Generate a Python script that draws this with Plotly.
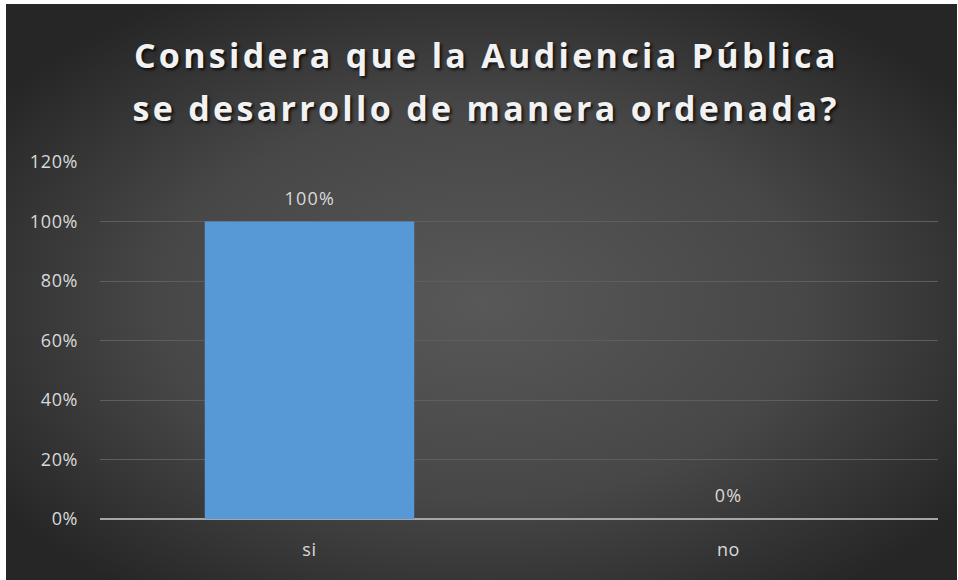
import base64
import plotly.graph_objects as go

categories = ["si", "no"]
values = [1.0, 0.0]
value_labels = ["100%", "0%"]
tick_vals = [0, 0.2, 0.4, 0.6, 0.8, 1.0, 1.2]
tick_text = ["0%", "20%", "40%", "60%", "80%", "100%", "120%"]
title_lines = ["Considera que la Audiencia Pública", "se desarrollo de manera ordenada?"]

W, H = 958, 580
ML, MR, MT, MB = 100, 20, 162, 61
pw, ph = W - ML - MR, H - MT - MB

svg = """<svg xmlns='http://www.w3.org/2000/svg' width='100' height='100' viewBox='0 0 100 100' preserveAspectRatio='none'>
<defs><radialGradient id='g' cx='0.5' cy='0.52' r='0.62'>
<stop offset='0' stop-color='#585858'/><stop offset='0.55' stop-color='#474747'/><stop offset='1' stop-color='#262626'/>
</radialGradient></defs><rect width='100' height='100' fill='url(#g)'/></svg>"""
src = "data:image/svg+xml;base64," + base64.b64encode(svg.encode()).decode()

def px_x(p):
    return (p - ML) / pw

def px_y(p):
    return (H - MB - p) / ph

fig = go.Figure()
fig.add_trace(go.Bar(
    x=categories, y=values, width=0.5,
    marker=dict(color="#5799d6", line=dict(width=0)),
    hoverinfo="skip",
))

for c, v, t in zip(categories, values, value_labels):
    fig.add_annotation(x=c, y=v, text=t, showarrow=False, yshift=24,
                       font=dict(family="Open Sans", size=18, color="#d9d9d9"))

title_font = dict(family="Open Sans", size=34, color="#f2f2f2", weight="bold",
                  shadow="2px 2px 3px rgba(0,0,0,0.75)")
for i, line in enumerate(title_lines):
    fig.add_annotation(xref="paper", yref="paper", x=px_x(486), y=px_y(55 + 53 * i),
                       text=line, showarrow=False, font=title_font,
                       xanchor="center", yanchor="middle", name="title")

fig.add_layout_image(dict(
    source=src, xref="paper", yref="paper",
    x=px_x(6), y=px_y(4), sizex=px_x(957) - px_x(6), sizey=px_y(4) - px_y(580),
    sizing="stretch", xanchor="left", yanchor="top", layer="below",
))

fig.update_layout(
    width=W, height=H,
    margin=dict(l=ML, r=MR, t=MT, b=MB, pad=0),
    paper_bgcolor="white", plot_bgcolor="rgba(0,0,0,0)",
    showlegend=False, bargap=0.5,
    font=dict(family="Open Sans", color="#d9d9d9", size=18),
    xaxis=dict(showgrid=False, showline=False, zeroline=False, ticks="",
               tickfont=dict(size=18, color="#d9d9d9"), ticklabelstandoff=18),
    yaxis=dict(range=[0, 1.2], tickvals=tick_vals, ticktext=tick_text,
               showgrid=True, gridcolor="#5e5e5e", gridwidth=1,
               zeroline=True, zerolinecolor="#a6a6a6", zerolinewidth=2,
               showline=False, ticks="", ticklabelstandoff=21,
               tickfont=dict(size=18, color="#d9d9d9")),
)

post = """
var gd = document.getElementById('{plot_id}');
var titles = %s;
var vlabels = %s;
gd.querySelectorAll('text.annotation-text').forEach(function(t){
  if (titles.indexOf(t.textContent) >= 0) { t.style.letterSpacing = '3.3px'; }
  else if (vlabels.indexOf(t.textContent) >= 0) { t.style.letterSpacing = '1.2px'; }
});
gd.querySelectorAll('.ytick text, .xtick text').forEach(function(t){ t.style.letterSpacing = '0.6px'; });
""" % (str(title_lines).replace("'", '"'), str(value_labels).replace("'", '"'))

fig.write_html("out.html", post_script=post)
